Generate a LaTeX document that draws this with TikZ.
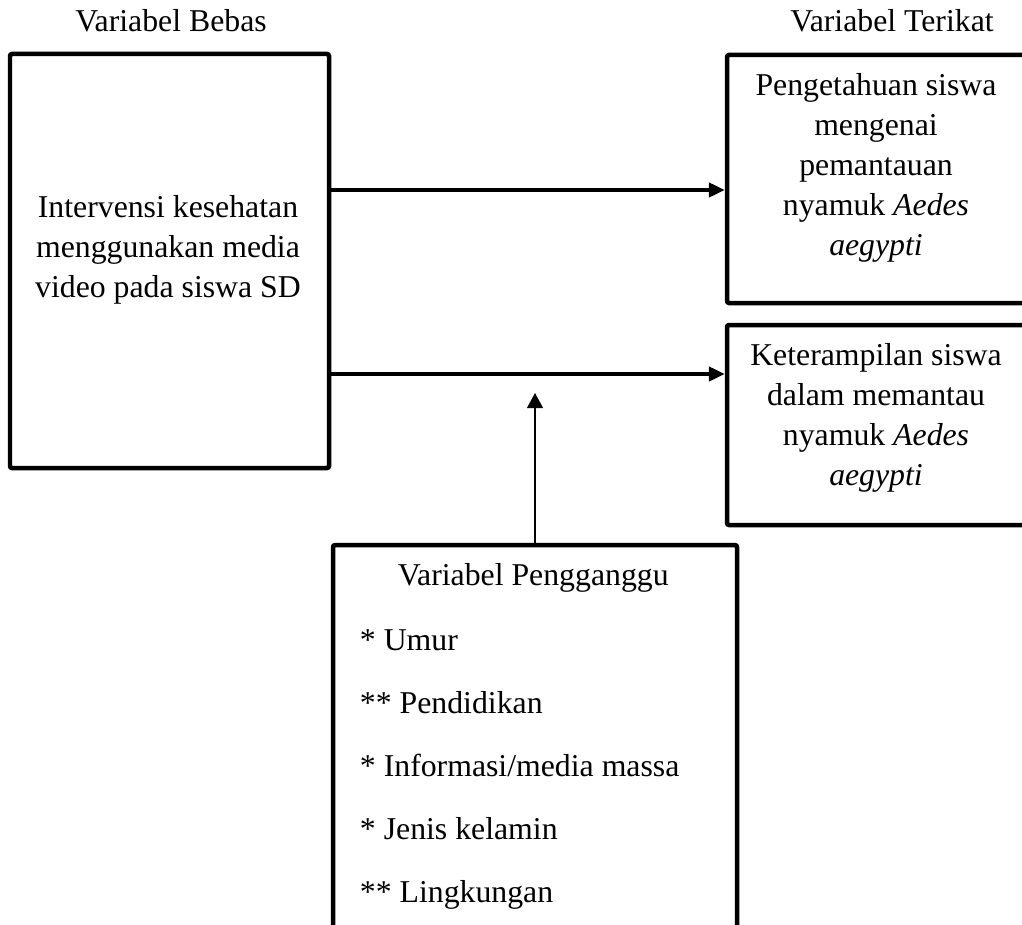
\documentclass[tikz,border=0pt]{standalone}
\usepackage{fontspec}
\setmainfont{Liberation Serif}
\usetikzlibrary{positioning, arrows.meta}
\tikzstyle{kotak} = [rectangle, rounded corners=1.5pt, 
line width=3.2pt, 
draw=black, 
fill=white]
\tikzstyle{teks} = [align=center, 
font=\fontsize{22.6}{28.5}\selectfont]
\tikzstyle{arrow} = [line width=2.4pt,-{Triangle[length=0.4cm,width=0.36cm]}]
\tikzstyle{arrowtipis} = [line width=1.3pt,-{Triangle[length=0.38cm,width=0.4cm]}]

\begin{document}
\begin{tikzpicture}
    \useasboundingbox (0,0) rectangle (25.55,-23.125);
        \node (judulbebas) [teks, anchor=base] at (4.275,-0.8) {Variabel Bebas};
        \node (judulterikat) [teks, anchor=base] at (22.3,-0.8) {Variabel Terikat};
        \node (bebas) [kotak, minimum width=7.975cm, minimum height=10.35cm] at (4.2375,-6.525) {};
        \node (tbebas) [teks] at (4.2,-6.25) {Intervensi kesehatan\\menggunakan media\\video pada siswa SD};
        \node (tahu) [kotak, minimum width=7.45cm, minimum height=6.2cm] at (21.9,-4.475) {};
        \node (ttahu) [teks] at (21.9,-4.2) {Pengetahuan siswa\\mengenai\\pemantauan\\nyamuk \textit{Aedes}\\\textit{aegypti}};
        \node (terampil) [kotak, minimum width=7.45cm, minimum height=5cm] at (21.9,-10.625) {};
        \node (tterampil) [teks] at (21.9,-10.45) {Keterampilan siswa\\dalam memantau\\nyamuk \textit{Aedes}\\\textit{aegypti}};
        \node (ganggu) [kotak, minimum width=10.1cm, minimum height=10cm] at (13.375,-18.625) {};
        \node (tganggu) [teks, anchor=base] at (13.33,-14.625) {Variabel Pengganggu};
        \foreach \isi [count=\i] in {* Umur, ** Pendidikan, * Informasi/media massa, * Jenis kelamin, ** Lingkungan}
            \node (faktor\i) [teks, anchor=base west] at (8.875,{-16.25-1.575*(\i-1)}) {\isi};
        \coordinate (ujung1) at ([yshift=-0.275cm]tahu.west);
        \coordinate (ujung2) at ([yshift=1.275cm]terampil.west);
        \coordinate (ujung3) at (ganggu.north |- 0,-9.825);
        \draw [arrow] (bebas.east |- ujung1) -- (ujung1);
        \draw [arrow] (bebas.east |- ujung2) -- (ujung2);
        \draw [arrowtipis] (ganggu.north) -- (ujung3);
    \end{tikzpicture}
\end{document}
